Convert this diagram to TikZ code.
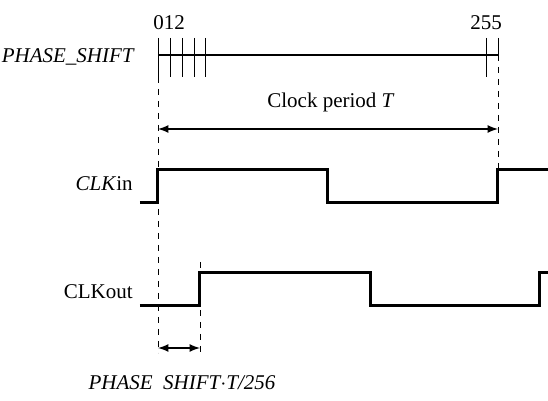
\documentclass[tikz,border=0pt]{standalone}
\usepackage{fontspec}
\setmainfont{Liberation Serif}
\usepackage{tikz}
\usetikzlibrary{arrows, positioning, calc}

\begin{document}
\begin{tikzpicture}[
    x=0.5pt, y=-0.5pt,
    wave/.style={draw, line width=1.5pt},
    guide/.style={draw, dashed, thin},
    dim/.style={draw, latex-latex, thick},
    tickmark/.style={draw, thin},
    lbl/.style={font=\fontsize{10.5}{12}\selectfont, inner sep=1pt}
]
\useasboundingbox (0,0) rectangle (548,401);

% scale of PHASE_SHIFT
\coordinate (s0) at (158,55);
\coordinate (s255) at (498,55);
\node [lbl, anchor=east] (pslabel) at (136,57) {\itshape PHASE\_SHIFT};
\node [lbl] (num012) at (169,23) {012};
\node [lbl] (num255) at (486,23) {255};
\draw [thick] (s0) -- (s255);
\foreach \x in {158,170,182,194,205,486}
    \draw [tickmark] (\x,38) -- (\x,77);
\draw [tickmark] (498,38) -- (s255);

% guides
\coordinate (g0top) at (158,77);
\coordinate (g0bot) at (158,353);
\coordinate (gTbot) at (498,170);
\coordinate (g1top) at (200,262);
\coordinate (g1bot) at (200,353);
\draw [guide] (g0top) -- (g0bot);
\draw [guide] (s255) -- (gTbot);
\draw [guide] (g1top) -- (g1bot);

% clock period
\coordinate (pa) at (158,129);
\coordinate (pb) at (498,129);
\node [lbl] (period) at (331,102) {Clock period \textit{T}};
\path [dim] (pa) -- (pb);

% waveforms
\node [lbl, anchor=east] (clkin) at (135,184) {\textit{CLK}in};
\draw [wave] (140,203) -- (158,203) -- (158,170) -- (328,170) -- (328,203)
    -- (498,203) -- (498,170) -- (548,170);
\node [lbl, anchor=east] (clkout) at (135,292) {CLKout};
\draw [wave] (140,306) -- (200,306) -- (200,273) -- (371,273) -- (371,306)
    -- (540,306) -- (540,273) -- (548,273);

% phase shift
\coordinate (da) at (158,348);
\coordinate (db) at (200,348);
\path [dim] (da) -- (db);
\node [lbl] (shift) at (182,383) {\itshape PHASE\hspace{0.5em}SHIFT$\cdot$T/256};

\end{tikzpicture}
\end{document}
